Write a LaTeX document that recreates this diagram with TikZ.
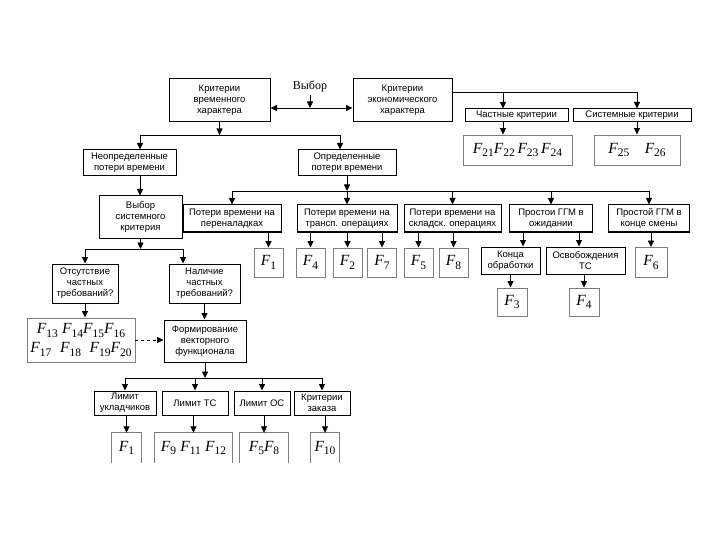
\documentclass[tikz,border=0pt]{standalone}
\usepackage{fontspec}
\setmainfont{Liberation Sans}
\newfontfamily\serifru{Liberation Serif}
\newcommand{\Fv}[1]{{\serifru\itshape F}\raisebox{-0.4ex}{\serifru\fontsize{11.5}{11.5}\selectfont #1}}
\definecolor{fgray}{RGB}{125,125,125}
\usetikzlibrary{arrows.meta,positioning,calc}

\begin{document}
\begin{tikzpicture}[x=1pt, y=-1pt,
    box/.style={draw, line width=1pt, inner sep=0pt, align=center, font=\fontsize{9.5}{11}\selectfont},
    fbox/.style={draw=fgray, line width=0.9pt, inner sep=0pt, align=center, font=\fontsize{15.5}{17}\selectfont},
    gbox/.style={inner sep=0pt, font=\fontsize{15.5}{17}\selectfont},
    arr/.style={-{Triangle[width=6pt,length=6.5pt]}, line width=0.8pt},
    bus/.style={line width=0.8pt}]
    \useasboundingbox (0,0) rectangle (720,540);

    % Top level
    \node[box, minimum width=101, minimum height=43] (kvr) at (219.5,100.5) {Критерии\\временного\\характера};
    \node[box, minimum width=99, minimum height=43] (kek) at (402.5,100.5) {Критерии\\экономического\\характера};
    \node[font=\serifru\fontsize{12}{13}\selectfont] (vyb) at (310,86) {Выбор};
    \coordinate (sel) at (310,108);
    \draw[arr, {Triangle[width=6pt,length=6.5pt]}-{Triangle[width=6pt,length=6.5pt]}] ([yshift=-7.5pt]kvr.east) -- ([yshift=-7.5pt]kvr.east -| kek.west);
    \draw[arr] (vyb.south) -- (sel);

    % Economic criteria
    \node[box, minimum width=103, minimum height=13] (chk) at (516.5,115.5) {Частные критерии};
    \node[box, minimum width=118, minimum height=13] (sk) at (632,115.5) {Системные критерии};
    \node[fbox, minimum width=109, minimum height=30] (f2124) at (517.5,150) {\Fv{21}\Fv{22}\,\Fv{23}\,\Fv{24}};
    \node[fbox, minimum width=86, minimum height=30] (f2526) at (637,150) {\Fv{25}\quad\Fv{26}};
    \coordinate (ej) at (503,92);
    \coordinate (ek) at (637,92);
    \draw[bus] ([yshift=8.5pt]kek.east) -- (ek);
    \draw[arr] (ej) -- (ej |- chk.north);
    \draw[arr] (ek) -- (ek |- sk.north);
    \draw[arr] (chk.south -| ej) -- (f2124.north -| ej);
    \draw[arr] (sk.south -| ek) -- (f2526.north -| ek);

    % Time losses
    \node[box, minimum width=93, minimum height=26] (neop) at (129.5,163) {Неопределенные\\потери времени};
    \node[box, minimum width=98, minimum height=26] (opr) at (347,163) {Определенные\\потери времени};
    \coordinate (n1) at (140,135);
    \coordinate (n2) at (340,135);
    \draw[arr] (kvr.south) -- (kvr.south |- n1);
    \draw[bus] (n1) -- (n2);
    \draw[arr] (n1) -- (n1 |- neop.north);
    \draw[arr] (n2) -- (n2 |- opr.north);

    % Definite losses
    \node[box, minimum width=98, minimum height=27] (pn) at (232,218.5) {Потери времени на\\переналадках};
    \node[box, minimum width=100, minimum height=27] (ptr) at (347,218.5) {Потери времени на\\трансп. операциях};
    \node[box, minimum width=97, minimum height=27] (psk) at (452.5,218.5) {Потери времени на\\складск. операциях};
    \node[box, minimum width=83, minimum height=27] (pog) at (551,218.5) {Простои ГГМ в\\ожидании};
    \node[box, minimum width=81, minimum height=27] (pks) at (649,218.5) {Простой ГГМ в\\конце смены};
    \coordinate (r1) at (232,191);
    \coordinate (r5) at (649,191);
    \draw[arr] (opr.south) -- (opr.south |- r1);
    \draw[bus] (r1) -- (r5);
    \foreach \b in {pn,ptr,psk,pog,pks}
        \draw[arr] (\b.north |- r1) -- (\b.north);

    \node[fbox, minimum width=29, minimum height=29] (f1) at (268.5,262.5) {\Fv{1}};
    \node[fbox, minimum width=29, minimum height=29] (f4) at (310.5,262.5) {\Fv{4}};
    \node[fbox, minimum width=29, minimum height=29] (f2) at (347.5,262.5) {\Fv{2}};
    \node[fbox, minimum width=29, minimum height=29] (f7) at (382,262.5) {\Fv{7}};
    \node[fbox, minimum width=29, minimum height=29] (f5) at (418.5,262.5) {\Fv{5}};
    \node[fbox, minimum width=29, minimum height=29] (f8) at (453.5,262.5) {\Fv{8}};
    \foreach \s/\t in {pn/f1,ptr/f4,ptr/f2,ptr/f7,psk/f5,psk/f8}
        \draw[arr] (\t |- \s.south) -- (\t);

    \node[box, minimum width=59, minimum height=27] (kob) at (510.5,260.5) {Конца\\обработки};
    \node[box, minimum width=79, minimum height=27] (osv) at (585.5,260.5) {Освобождения\\ТС};
    \node[fbox, minimum width=32, minimum height=30] (f6) at (651,262.5) {\Fv{6}};
    \node[fbox, minimum width=30, minimum height=28] (f3) at (512,302) {\Fv{3}};
    \node[fbox, minimum width=30, minimum height=28] (f4b) at (584,302) {\Fv{4}};
    \draw[arr] ([xshift=-28pt]pog.south) -- ([xshift=-28pt]pog.south |- kob.north);
    \draw[arr] ([xshift=28pt]pog.south) -- ([xshift=28pt]pog.south |- osv.north);
    \draw[arr] (f6 |- pks.south) -- (f6);
    \draw[arr] (kob.south) -- (kob.south |- f3.north);
    \draw[arr] (f4b |- osv.south) -- (f4b);

    % Indefinite losses
    \node[box, minimum width=83, minimum height=42] (vsk) at (140.5,217) {Выбор\\системного\\критерия};
    \draw[arr] (neop.south -| n1) -- (vsk.north -| n1);
    \node[box, minimum width=66, minimum height=39] (ots) at (85,283.5) {Отсутствие\\частных\\требований?};
    \node[box, minimum width=71, minimum height=39] (nal) at (204.5,283.5) {Наличие\\частных\\требований?};
    \coordinate (l1) at (85,249);
    \coordinate (l2) at (183,249);
    \draw[arr] (vsk.south) -- (vsk.south |- l1);
    \draw[bus] (l1) -- (l2);
    \draw[arr] (l1) -- (l1 |- ots.north);
    \draw[arr] (l2) -- (l2 |- nal.north);

    \node[fbox, minimum width=108, minimum height=44, font=\fontsize{15.5}{19}\selectfont] (fm) at (81,340)
        {\Fv{13}\;\Fv{14}\Fv{15}\Fv{16}\\\Fv{17}\;\;\Fv{18}\;\;\Fv{19}\Fv{20}};
    \node[box, minimum width=82, minimum height=42] (form) at (205,341) {Формирование\\векторного\\функционала};
    \draw[arr] (ots.south) -- (ots.south |- fm.north);
    \draw[arr] (nal.south) -- (nal.south |- form.north);
    \draw[arr, dashed] (fm.east) -- (fm.east -| form.west);

    % Vector functional
    \node[box, minimum width=62, minimum height=24] (lu) at (125,403) {Лимит\\укладчиков};
    \node[box, minimum width=66, minimum height=24] (lts) at (195,403) {Лимит ТС};
    \node[box, minimum width=56, minimum height=24] (los) at (262,403) {Лимит ОС};
    \node[box, minimum width=56, minimum height=24] (kz) at (322,403) {Критерии\\заказа};
    \coordinate (m1) at (125,378);
    \coordinate (m4) at (322,378);
    \draw[arr] (form.south) -- (form.south |- m1);
    \draw[bus] (m1) -- (m4);
    \foreach \b in {lu,lts,los,kz}
        \draw[arr] (\b.north |- m1) -- (\b.north);

    \node[gbox, minimum width=29, minimum height=30] (g1) at (126.5,448) {\Fv{1}};
    \node[gbox, minimum width=77, minimum height=30] (g2) at (193.5,448) {\Fv{9}\;\Fv{11}\;\Fv{12}};
    \node[gbox, minimum width=48, minimum height=30] (g3) at (264,448) {\Fv{5}\Fv{8}};
    \node[gbox, minimum width=28, minimum height=30] (g4) at (325,448) {\Fv{10}};
    \foreach \g in {g1,g2,g3,g4}
        \draw[fgray, line width=0.9pt] (\g.south west) -- (\g.north west) -- (\g.north east) -- (\g.south east);
    \foreach \s/\t in {lu/g1,lts/g2,los/g3,kz/g4}
        \draw[arr] (\t |- \s.south) -- (\t.north);
\end{tikzpicture}
\end{document}
